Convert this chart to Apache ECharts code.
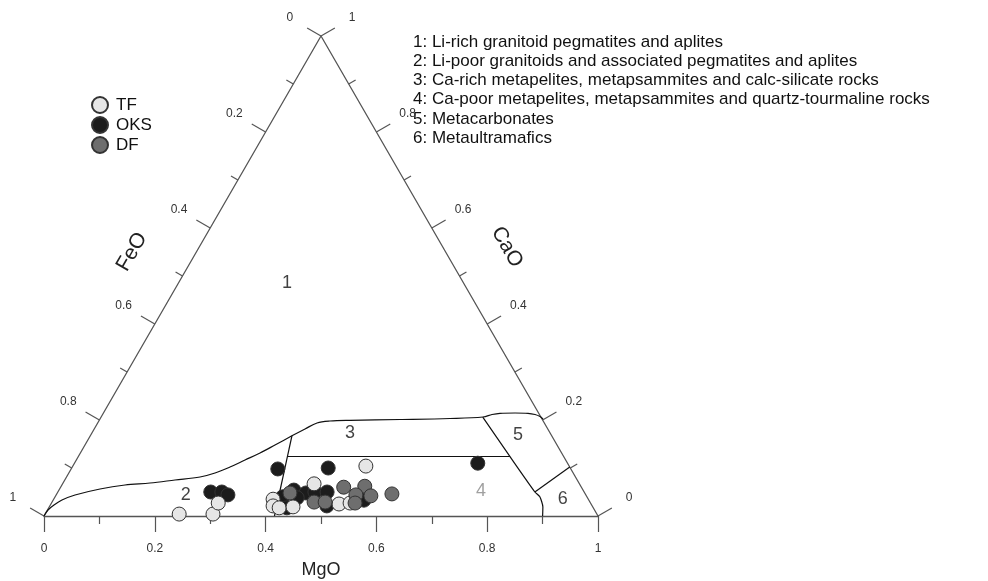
<!DOCTYPE html>
<html>
<head>
<meta charset="utf-8">
<script src="https://cdn.jsdelivr.net/npm/echarts@6/dist/echarts.min.js"></script>
<style>
  html, body { margin: 0; padding: 0; background: #fff; }
  #chart { width: 988px; height: 581px; }
</style>
</head>
<body>
<div id="chart"></div>
<script>
// ternary compositions as [MgO, CaO] (FeO = 1 - MgO - CaO)
var tf = [
  [0.242, 0.004], [0.303, 0.004], [0.301, 0.027], [0.396, 0.035], [0.403, 0.021],
  [0.416, 0.017], [0.440, 0.019], [0.454, 0.067], [0.529, 0.104], [0.520, 0.025],
  [0.539, 0.027]
];
var oks = [
  [0.276, 0.050], [0.296, 0.050], [0.310, 0.044], [0.373, 0.098], [0.463, 0.100],
  [0.728, 0.110], [0.411, 0.040], [0.424, 0.054], [0.430, 0.017], [0.449, 0.048],
  [0.464, 0.050], [0.486, 0.050], [0.500, 0.021], [0.438, 0.038], [0.561, 0.033]
];
var df = [
  [0.420, 0.048], [0.473, 0.029], [0.493, 0.029], [0.511, 0.060], [0.548, 0.062],
  [0.541, 0.044], [0.569, 0.042], [0.605, 0.046], [0.548, 0.027]
];

// field boundaries
var outerCurve = [
  [0, 0], [0.001, 0.0125], [0.0066, 0.0229], [0.0158, 0.0333], [0.0341, 0.0438],
  [0.073, 0.0563], [0.1139, 0.0646], [0.1569, 0.0688], [0.199, 0.075], [0.241, 0.0813],
  [0.2639, 0.0896], [0.2847, 0.1021], [0.3045, 0.1167], [0.3243, 0.1313], [0.343, 0.1479],
  [0.364, 0.167], [0.3805, 0.1813], [0.3959, 0.1938], [0.4172, 0.1979], [0.4526, 0.1994],
  [0.5421, 0.201], [0.6313, 0.2031], [0.6893, 0.2063], [0.703, 0.2115], [0.7161, 0.214],
  [0.7429, 0.2146], [0.7666, 0.214], [0.7806, 0.2115], [0.7917, 0.2073], [0.7997, 0.2021]
];
var line24 = [[0.364, 0.167], [0.416, 0]];
var line34 = [[0.377, 0.124], [0.779, 0.124]];
var line45 = [[0.689, 0.206], [0.780, 0.123], [0.861, 0.050], [0.875, 0.040], [0.891, 0.019], [0.900, 0]];
var line56 = [[0.861, 0.050], [0.898, 0.102]];

var fieldLabels = [
  ['1', 0.196, 0.485], ['2', 0.234, 0.044], ['3', 0.466, 0.173],
  ['4', 0.763, 0.052], ['5', 0.771, 0.169], ['6', 0.919, 0.035]
];
var sideTicks = [0, 0.1, 0.2, 0.3, 0.4, 0.5, 0.6, 0.7, 0.8, 0.9, 1];
var corners = [[0, 0], [0, 1], [1, 0]];

var notes = [
  '1: Li-rich granitoid pegmatites and aplites',
  '2: Li-poor granitoids and associated pegmatites and aplites',
  '3: Ca-rich metapelites, metapsammites and calc-silicate rocks',
  '4: Ca-poor metapelites, metapsammites and quartz-tourmaline rocks',
  '5: Metacarbonates',
  '6: Metaultramafics'
];

var SQ = Math.sqrt(3) / 2;
function toXY(p) { return [p[0] + p[1] / 2, p[1] * SQ]; }

var edgeColor = '#555';
var font = 'Arial, "Liberation Sans", sans-serif';

function boundary(pts, smooth) {
  return {
    type: 'line', data: pts.map(toXY), smooth: smooth || false, symbol: 'none',
    lineStyle: { color: '#111', width: 1.2 }, silent: true, z: 3
  };
}
function points(name, arr, color) {
  return {
    name: name, type: 'scatter', data: arr.map(toXY), symbolSize: 14,
    itemStyle: { color: color, borderColor: '#333', borderWidth: 1, opacity: 1 }, z: 5
  };
}
function fmt(v) { return v === 0 ? '0' : v === 1 ? '1' : v.toFixed(1); }

var chart = echarts.init(document.getElementById('chart'));
chart.setOption({
  animation: false,
  backgroundColor: '#fff',
  grid: { left: 44, right: 390, top: 36, bottom: 65, outerBoundsMode: 'none', containLabel: false },
  xAxis: {
    type: 'value', min: 0, max: 1, interval: 0.2,
    axisLine: { onZero: false, lineStyle: { color: edgeColor, width: 1.3 } },
    axisTick: { length: 16, lineStyle: { color: edgeColor, width: 1.2 } },
    minorTick: { show: true, splitNumber: 2, length: 8, lineStyle: { color: edgeColor, width: 1.2 } },
    splitLine: { show: false },
    axisLabel: { margin: 27, color: '#333', fontSize: 12, fontFamily: font },
    name: 'MgO', nameLocation: 'middle', nameGap: 45,
    nameTextStyle: { fontSize: 18, color: '#222', fontFamily: font }
  },
  yAxis: { type: 'value', min: 0, max: SQ, show: false },
  legend: {
    orient: 'vertical', left: 86, top: 91, itemWidth: 16, itemHeight: 16, itemGap: 2,
    icon: 'circle',
    textStyle: { fontSize: 17, color: '#111', fontFamily: font, padding: [0, 0, 0, 3] },
    data: ['TF', 'OKS', 'DF']
  },
  graphic: [
    { type: 'text', left: 413, top: 32.5, style: { text: notes.join('\n'), font: '17px ' + font, lineHeight: 19.2, fill: '#111' } },
    { type: 'text', x: 132, y: 252, rotation: Math.PI / 3, style: { text: 'FeO', font: '21px ' + font, fill: '#222', align: 'center', verticalAlign: 'middle' } },
    { type: 'text', x: 507, y: 247, rotation: -Math.PI / 3, style: { text: 'CaO', font: '21px ' + font, fill: '#222', align: 'center', verticalAlign: 'middle' } }
  ],
  series: [
    {
      type: 'line', data: corners.map(toXY), symbol: 'none', silent: true,
      lineStyle: { color: edgeColor, width: 1.3 }, z: 2
    },
    {
      type: 'custom', data: sideTicks, silent: true, z: 2,
      renderItem: function (params, api) {
        var v = api.value(0);
        var major = Math.round(v * 10) % 2 === 0;
        var len = major ? 16 : 8;
        var children = [];
        var sides = [
          { p: api.coord(toXY([0, 1 - v])), d: [-0.866, -0.5] },
          { p: api.coord(toXY([1 - v, v])), d: [0.866, -0.5] }
        ];
        sides.forEach(function (s) {
          children.push({
            type: 'line',
            shape: { x1: s.p[0], y1: s.p[1], x2: s.p[0] + s.d[0] * len, y2: s.p[1] + s.d[1] * len },
            style: { stroke: edgeColor, lineWidth: 1.2 }
          });
          if (major) {
            children.push({
              type: 'text',
              style: {
                text: fmt(v), x: s.p[0] + s.d[0] * 36, y: s.p[1] + s.d[1] * 36,
                align: 'center', verticalAlign: 'middle', fill: '#333', font: '12px ' + font
              }
            });
          }
        });
        return { type: 'group', children: children };
      }
    },
    boundary(outerCurve, 0.35),
    boundary(line24),
    boundary(line34),
    boundary(line45, 0.2),
    boundary(line56),
    {
      type: 'scatter', symbolSize: 0, silent: true, z: 4,
      data: fieldLabels.map(function (f) {
        return {
          name: f[0], value: toXY([f[1], f[2]]),
          label: f[0] === '4' ? { color: '#888' } : undefined
        };
      }),
      label: {
        show: true, position: 'inside', formatter: '{b}', fontSize: 18, fontFamily: font,
        color: '#111'
      },
      labelLayout: { hideOverlap: false }
    },
    points('OKS', oks, '#1c1c1c'),
    points('TF', tf, '#e6e6e6'),
    points('DF', df, '#6e6e6e')
  ]
});
</script>
</body>
</html>
